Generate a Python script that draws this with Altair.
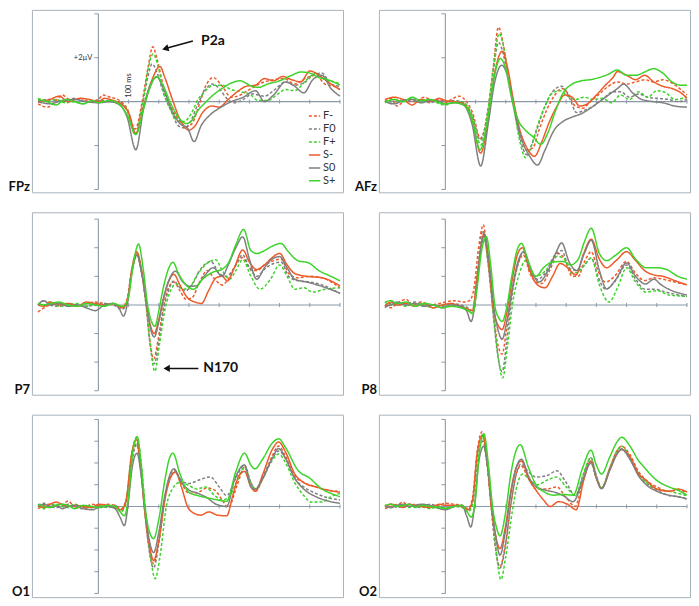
import altair as alt
import pandas as pd

CONDITIONS = ["F-", "F0", "F+", "S-", "S0", "S+"]
COLORS = ["#ee5a2a", "#7f7f7f", "#3dd42a", "#ee5a2a", "#7f7f7f", "#3dd42a"]
DASHES = [[3, 2], [3, 2], [3, 2], [1, 0], [1, 0], [1, 0]]

X_TICKS = [100, 200, 300, 400, 500, 600, 700, 800]

# ---------------- data (time in ms, amplitude in µV) ----------------
FPZ = {
    "F-": [[-200,-0.1],[-170,-0.25],[-140,0.05],[-120,0.3],[-90,0.05],[-60,0.15],[-30,0.0],[0,0.1],[15,0.3],[40,0.2],[70,0.05],[95,-0.3],[122,-1.25],[145,0.0],[165,1.6],[180,2.5],[195,1.9],[215,0.7],[240,-0.2],[265,-0.8],[290,-1.15],[310,-1.0],[335,-0.1],[355,0.7],[380,1.1],[410,0.7],[440,0.2],[470,0.3],[500,0.55],[540,0.85],[580,1.0],[615,1.05],[650,0.8],[690,1.1],[720,1.2],[750,0.8],[780,0.7],[800,0.55]],
    "F0": [[-200,0.05],[-160,0.1],[-120,0.0],[-80,0.15],[-40,0.0],[0,0.05],[40,0.0],[75,-0.1],[95,-0.4],[122,-1.5],[148,0.0],[165,1.2],[178,1.72],[195,1.3],[215,0.4],[240,-0.4],[265,-1.1],[285,-1.2],[305,-0.9],[330,-0.1],[355,0.55],[378,0.8],[400,0.6],[425,0.15],[450,-0.05],[480,0.1],[510,0.35],[550,0.25],[580,0.5],[620,0.9],[650,0.75],[680,0.85],[710,1.2],[740,1.3],[770,0.8],[800,0.7]],
    "F+": [[-200,0.15],[-170,0.05],[-140,0.1],[-110,-0.05],[-80,0.0],[-50,-0.1],[-20,0.05],[0,0.0],[40,0.05],[75,-0.1],[95,-0.35],[122,-1.45],[148,0.0],[165,1.5],[181,2.18],[198,1.6],[215,0.5],[240,-0.4],[265,-0.9],[285,-0.9],[305,-0.6],[330,0.1],[355,0.5],[380,0.75],[410,0.75],[440,0.55],[470,0.45],[500,0.35],[530,0.05],[560,0.05],[590,0.3],[620,0.55],[650,0.5],[690,1.0],[720,1.3],[750,1.0],[780,0.9],[800,0.8]],
    "S-": [[-200,0.0],[-160,0.1],[-130,0.25],[-100,0.0],[-60,0.15],[-30,0.1],[0,0.0],[20,0.15],[50,0.05],[80,-0.15],[100,-0.5],[124,-1.45],[150,-0.2],[175,0.9],[204,1.6],[220,1.1],[245,0.1],[270,-0.8],[300,-1.3],[320,-1.1],[345,-0.5],[375,-0.2],[400,-0.25],[430,0.1],[460,0.45],[490,0.7],[520,0.75],[550,1.05],[580,0.95],[610,1.15],[640,1.0],[670,0.9],[700,1.4],[730,1.2],[760,0.9],[800,0.55]],
    "S0": [[-200,0.0],[-160,-0.1],[-120,0.05],[-80,0.1],[-40,0.0],[0,-0.05],[40,0.0],[75,-0.2],[95,-0.7],[124,-2.19],[150,-0.3],[170,0.7],[195,1.12],[215,0.6],[240,-0.3],[270,-1.0],[295,-1.2],[317,-1.82],[340,-1.1],[370,-0.6],[400,-0.3],[440,0.0],[480,0.2],[520,0.5],[550,0.0],[580,0.3],[620,0.9],[650,0.7],[680,0.4],[710,1.0],[740,1.2],[770,0.6],[800,0.25]],
    "S+": [[-200,0.1],[-170,0.0],[-140,-0.15],[-110,0.1],[-80,0.0],[-50,-0.1],[-20,0.05],[0,-0.05],[40,0.05],[75,-0.2],[95,-0.6],[124,-1.5],[150,-0.3],[170,0.6],[192,1.14],[212,0.8],[240,-0.1],[270,-0.8],[290,-1.0],[310,-0.85],[330,-0.4],[350,-0.1],[380,0.3],[410,0.6],[440,0.85],[470,0.95],[500,0.75],[530,0.65],[560,0.8],[600,0.95],[640,1.2],[670,1.35],[700,1.3],[730,1.1],[760,1.0],[800,0.75]],
}

AFZ = {
    "F-": [[-200,0.0],[-180,0.15],[-160,-0.2],[-130,0.1],[-100,0.0],[-70,0.2],[-40,0.05],[-20,0.1],[0,-0.05],[20,0.1],[45,0.25],[70,0.0],[90,-0.5],[116,-1.67],[140,-0.5],[158,1.5],[176,3.39],[192,2.6],[210,1.0],[228,-0.3],[250,-1.6],[270,-2.2],[290,-2.1],[310,-1.3],[335,-0.4],[360,0.25],[385,0.6],[405,0.4],[430,-0.2],[455,-0.3],[480,0.0],[510,0.35],[540,0.7],[570,0.9],[600,0.8],[630,0.9],[660,1.0],[690,0.9],[720,1.0],[750,0.85],[780,0.55],[800,0.3]],
    "F0": [[-200,0.05],[-170,-0.1],[-140,0.1],[-110,0.0],[-80,0.1],[-50,-0.05],[-20,0.05],[0,0.0],[30,0.05],[60,-0.05],[88,-0.6],[116,-1.75],[140,-0.5],[158,1.3],[176,2.7],[193,2.1],[210,0.8],[228,-0.4],[250,-1.8],[268,-2.41],[285,-2.0],[305,-1.2],[330,-0.2],[355,0.45],[385,0.7],[410,0.2],[435,-0.5],[460,-0.4],[490,-0.2],[520,0.1],[555,0.45],[580,0.45],[610,0.2],[640,0.35],[670,0.2],[700,0.15],[740,0.1],[770,0.0],[800,0.1]],
    "F+": [[-200,0.0],[-170,0.1],[-140,0.0],[-110,0.15],[-80,-0.05],[-50,0.1],[-20,-0.1],[0,-0.15],[30,0.0],[60,-0.05],[88,-0.6],[117,-1.97],[140,-0.5],[158,1.4],[178,3.1],[194,2.4],[210,0.9],[228,-0.4],[248,-1.9],[266,-2.56],[285,-2.0],[305,-1.1],[330,-0.2],[355,0.4],[380,0.5],[405,0.25],[430,0.1],[460,0.2],[490,0.1],[520,0.15],[550,-0.05],[580,0.3],[610,0.1],[640,0.45],[670,0.2],[700,0.5],[730,0.4],[760,0.1],[800,0.2]],
    "S-": [[-200,0.1],[-170,0.2],[-140,0.1],[-110,-0.15],[-80,0.1],[-50,0.0],[-20,0.15],[0,0.05],[30,0.0],[60,-0.1],[88,-0.8],[117,-2.34],[142,-0.8],[162,1.2],[189,2.3],[205,1.6],[225,0.1],[245,-1.2],[270,-2.1],[295,-2.49],[320,-1.8],[345,-0.9],[370,-0.2],[395,0.3],[420,0.2],[445,-0.2],[470,-0.1],[500,0.3],[530,0.75],[555,1.1],[570,1.37],[600,1.2],[630,1.0],[660,1.2],[690,0.9],[720,0.7],[750,0.6],[780,0.4],[800,0.15]],
    "S0": [[-200,0.0],[-170,-0.1],[-140,0.05],[-110,0.1],[-80,-0.05],[-50,0.05],[-20,0.0],[0,-0.1],[30,-0.05],[60,-0.15],[88,-1.0],[117,-2.93],[142,-1.0],[162,0.8],[187,1.66],[205,1.2],[225,-0.1],[250,-1.6],[280,-2.5],[305,-2.89],[330,-2.2],[360,-1.3],[390,-0.9],[420,-0.7],[450,-0.55],[480,-0.3],[510,0.0],[540,0.3],[570,0.6],[590,0.8],[620,0.4],[650,0.1],[690,0.0],[720,-0.05],[760,-0.2],[800,-0.25]],
    "S+": [[-200,-0.05],[-170,0.1],[-140,0.0],[-110,0.2],[-80,0.05],[-50,0.1],[-20,-0.05],[0,-0.1],[30,-0.05],[60,-0.15],[88,-0.8],[115,-2.19],[140,-0.8],[160,1.0],[182,1.96],[200,1.5],[220,0.2],[240,-0.8],[265,-1.3],[290,-1.6],[316,-1.94],[340,-1.4],[365,-0.4],[390,0.4],[420,0.8],[450,0.95],[480,1.0],[510,1.1],[540,1.25],[569,1.44],[600,1.2],[630,1.2],[660,1.35],[688,1.5],[720,1.3],[750,0.9],[780,0.75],[800,0.75]],
}

P7 = {
    "F-": [[-200,-0.25],[-180,-0.1],[-160,0.0],[-130,0.05],[-100,0.0],[-70,-0.05],[-40,0.05],[-10,0.1],[20,0.05],[50,0.0],[80,-0.05],[95,0.2],[110,1.2],[126,1.86],[140,1.3],[158,0.0],[170,-1.2],[183,-1.89],[198,-1.2],[215,-0.1],[232,0.6],[250,0.8],[270,0.5],[290,0.2],[310,0.25],[335,0.8],[360,1.2],[385,0.9],[410,0.7],[430,0.9],[455,1.4],[478,1.66],[500,1.3],[525,1.2],[550,1.4],[580,1.55],[605,1.6],[630,1.1],[660,0.95],[700,1.0],[740,0.95],[800,0.6]],
    "F0": [[-200,0.0],[-180,0.15],[-160,0.0],[-130,-0.05],[-100,0.05],[-70,0.0],[-40,-0.05],[-10,0.0],[20,0.05],[50,0.0],[80,-0.15],[95,0.1],[110,1.2],[126,1.8],[140,1.3],[158,0.0],[170,-1.3],[185,-2.06],[200,-1.3],[215,-0.2],[232,0.5],[250,0.84],[270,0.6],[290,0.5],[310,0.7],[335,1.2],[373,1.52],[400,1.1],[425,1.0],[450,1.3],[478,1.75],[500,1.3],[525,1.0],[550,1.25],[580,1.45],[605,1.5],[630,1.0],[660,0.85],[700,0.8],[740,0.7],[800,0.4]],
    "F+": [[-200,0.05],[-180,0.0],[-160,0.1],[-130,-0.05],[-100,0.0],[-70,0.05],[-40,-0.05],[-10,0.05],[20,0.0],[50,0.05],[80,-0.1],[95,0.1],[112,1.2],[128,1.75],[142,1.2],[160,-0.1],[172,-1.4],[187,-2.32],[202,-1.4],[218,-0.3],[235,0.4],[258,0.73],[280,0.55],[300,0.6],[330,1.1],[360,1.45],[389,1.58],[410,1.2],[435,0.9],[455,1.2],[478,1.58],[505,1.0],[535,0.55],[570,0.9],[600,1.4],[625,1.0],[650,0.55],[680,0.6],[710,0.45],[750,0.55],[800,0.6]],
    "S-": [[-200,0.0],[-180,-0.05],[-160,0.1],[-130,0.0],[-100,0.05],[-70,-0.05],[-40,0.1],[-10,0.05],[20,0.0],[50,0.05],[80,-0.1],[95,0.1],[110,1.2],[128,1.84],[142,1.3],[160,0.0],[172,-0.7],[185,-1.0],[200,-0.5],[215,0.2],[232,0.8],[250,1.07],[270,0.7],[295,0.25],[320,0.1],[341,0.05],[365,0.5],[390,0.95],[410,1.0],[427,0.84],[450,1.3],[478,1.92],[500,1.5],[524,1.24],[550,1.4],[575,1.65],[600,1.8],[625,1.4],[650,1.1],[690,1.0],[740,0.95],[800,0.67]],
    "S0": [[-200,0.0],[-180,0.15],[-160,0.0],[-130,0.05],[-100,-0.05],[-70,0.0],[-40,-0.1],[-10,-0.2],[20,0.0],[50,0.05],[70,-0.15],[83,-0.39],[97,0.1],[112,1.2],[128,1.75],[142,1.2],[160,0.0],[172,-0.8],[185,-1.12],[200,-0.6],[215,0.2],[235,0.9],[255,1.18],[280,0.8],[305,0.65],[325,0.67],[350,1.0],[380,1.3],[410,1.0],[430,1.4],[455,2.0],[478,2.38],[500,1.6],[524,0.9],[550,1.3],[575,1.6],[600,1.69],[625,1.3],[650,0.9],[690,0.8],[740,0.65],[800,0.41]],
    "S+": [[-200,0.05],[-180,0.0],[-160,0.05],[-130,0.1],[-100,0.0],[-70,-0.05],[-40,0.05],[-10,0.0],[20,-0.05],[50,0.05],[80,-0.05],[98,0.2],[115,1.4],[133,2.13],[148,1.3],[163,0.0],[175,-0.55],[187,-0.75],[200,-0.2],[215,0.6],[230,1.2],[247,1.49],[265,1.1],[290,0.7],[315,0.55],[345,0.9],[380,1.15],[410,1.25],[432,1.5],[455,2.1],[481,2.64],[505,1.9],[525,1.8],[550,1.9],[575,2.05],[604,2.15],[630,1.85],[660,1.55],[696,1.47],[730,1.2],[770,1.0],[800,0.84]],
}

P8 = {
    "F-": [[-200,0.0],[-180,-0.1],[-160,0.05],[-130,0.2],[-110,0.0],[-80,0.1],[-50,0.0],[-20,0.05],[0,0.1],[30,0.15],[60,0.1],[80,0.15],[95,0.6],[110,2.0],[126,2.8],[140,1.6],[160,-0.3],[172,-1.3],[188,-1.72],[202,-0.9],[220,0.4],[240,1.4],[258,1.75],[280,1.1],[300,0.8],[320,0.75],[345,1.2],[375,1.8],[395,1.6],[420,1.0],[440,1.0],[460,1.5],[483,1.86],[505,1.2],[530,0.8],[560,1.0],[600,1.52],[630,1.1],[660,0.85],[690,0.95],[720,0.9],[760,0.8],[800,0.7]],
    "F0": [[-200,-0.1],[-180,0.05],[-160,0.0],[-130,0.05],[-100,0.1],[-70,-0.05],[-40,0.0],[-10,-0.05],[20,0.05],[50,0.0],[75,-0.1],[90,-0.2],[105,1.0],[124,2.6],[140,1.6],[160,-0.5],[174,-1.8],[188,-2.34],[203,-1.3],[220,0.3],[240,1.4],[258,1.85],[280,1.2],[305,0.9],[330,1.1],[360,1.7],[385,1.9],[410,1.3],[435,1.2],[460,1.4],[483,1.64],[505,1.0],[530,0.55],[560,0.8],[600,1.4],[630,0.9],[660,0.55],[690,0.55],[730,0.45],[770,0.35],[800,0.3]],
    "F+": [[-200,0.1],[-180,0.0],[-160,0.05],[-130,-0.05],[-100,0.05],[-70,0.0],[-40,-0.1],[-10,0.0],[20,0.0],[50,-0.05],[75,-0.15],[90,-0.3],[105,0.8],[126,2.32],[142,1.5],[162,-0.6],[176,-1.9],[190,-2.55],[205,-1.5],[222,0.0],[245,1.1],[266,1.55],[290,1.0],[315,1.05],[340,1.3],[370,1.7],[395,1.6],[420,1.1],[445,1.2],[465,1.45],[483,1.64],[510,0.7],[542,0.1],[570,0.6],[600,1.3],[630,0.8],[665,0.45],[700,0.5],[740,0.35],[800,0.3]],
    "S-": [[-200,-0.05],[-180,0.1],[-160,0.0],[-130,0.05],[-100,-0.05],[-70,0.05],[-40,-0.1],[-10,0.0],[20,0.05],[50,-0.05],[75,-0.15],[90,-0.2],[105,1.0],[128,2.49],[142,1.6],[160,-0.2],[174,-0.7],[188,-0.86],[203,-0.3],[220,0.8],[240,1.8],[255,2.0],[280,1.2],[305,0.7],[330,0.6],[355,1.0],[380,1.45],[405,1.3],[432,1.05],[458,1.8],[483,2.3],[510,1.6],[534,1.3],[565,1.55],[600,1.86],[630,1.55],[660,1.2],[690,1.05],[720,1.0],[760,0.85],[800,0.7]],
    "S0": [[-200,-0.05],[-180,0.0],[-160,0.1],[-130,0.0],[-100,0.05],[-70,-0.05],[-40,0.0],[-10,-0.1],[20,0.0],[50,-0.05],[70,-0.2],[85,-0.58],[100,0.2],[115,1.8],[130,2.45],[145,1.5],[162,-0.2],[175,-0.9],[188,-1.2],[203,-0.6],[222,0.6],[240,1.5],[260,1.86],[285,1.2],[310,0.8],[340,1.2],[365,1.8],[385,2.17],[410,1.5],[435,1.2],[460,1.8],[483,2.26],[510,1.2],[534,0.56],[565,0.9],[600,1.47],[630,1.0],[663,0.73],[690,0.9],[715,0.7],[750,0.5],[800,0.35]],
    "S+": [[-200,0.1],[-180,0.15],[-160,0.05],[-130,0.1],[-100,-0.05],[-70,0.05],[-40,0.0],[-10,-0.1],[20,-0.05],[50,-0.1],[75,-0.2],[90,-0.3],[105,0.6],[120,1.9],[136,2.38],[150,1.4],[165,-0.1],[177,-0.45],[188,-0.58],[203,-0.1],[220,1.0],[237,1.9],[252,2.15],[275,1.5],[300,1.0],[325,1.3],[355,1.5],[390,1.52],[415,1.4],[440,1.6],[460,2.2],[483,2.68],[510,1.8],[534,1.55],[565,1.75],[600,2.0],[630,1.6],[665,1.3],[700,1.3],[730,1.25],[770,1.0],[800,0.9]],
}

O1 = {
    "F-": [[-200,-0.1],[-180,0.05],[-160,0.1],[-140,0.0],[-120,0.05],[-100,0.25],[-80,0.0],[-50,-0.05],[-20,0.1],[0,0.05],[30,0.1],[55,0.05],[75,-0.1],[92,0.3],[110,2.2],[127,2.93],[140,1.8],[152,0.0],[165,-1.6],[183,-2.63],[200,-1.6],[218,0.2],[235,1.2],[255,1.58],[275,1.1],[300,0.6],[330,0.65],[360,0.85],[385,0.75],[410,0.3],[430,-0.05],[460,1.0],[484,1.8],[505,1.0],[520,0.7],[545,1.3],[575,2.3],[597,2.78],[620,2.3],[650,1.4],[680,1.1],[720,0.9],[760,0.75],[800,0.7]],
    "F0": [[-200,0.05],[-180,0.15],[-160,0.0],[-140,-0.05],[-120,0.0],[-100,0.1],[-80,-0.05],[-50,-0.1],[-20,0.0],[0,-0.05],[30,0.0],[55,0.05],[75,-0.2],[92,0.2],[110,2.0],[127,2.85],[140,1.7],[152,0.0],[165,-1.7],[183,-2.83],[200,-1.7],[218,0.2],[235,1.3],[250,1.65],[275,1.2],[300,1.05],[330,1.2],[371,1.36],[400,0.9],[425,0.5],[455,1.3],[484,1.9],[505,1.1],[520,0.8],[545,1.4],[575,2.2],[597,2.55],[620,2.2],[650,1.3],[680,0.9],[720,0.6],[760,0.4],[800,0.3]],
    "F+": [[-200,0.0],[-180,-0.1],[-160,0.05],[-140,0.1],[-120,0.0],[-100,-0.05],[-80,0.1],[-50,0.0],[-20,-0.05],[0,0.05],[30,-0.05],[55,0.0],[75,-0.25],[92,0.3],[110,2.4],[128,3.2],[142,2.0],[155,0.0],[170,-2.0],[188,-3.32],[205,-2.2],[225,0.0],[245,0.8],[269,1.1],[295,1.0],[325,0.8],[355,0.9],[385,0.5],[410,0.3],[430,0.4],[460,1.2],[484,1.8],[505,1.1],[520,0.8],[545,1.3],[575,2.1],[597,2.41],[620,2.0],[650,1.1],[680,0.5],[704,0.2],[740,0.2],[770,0.45],[800,0.6]],
    "S-": [[-200,0.05],[-180,-0.05],[-160,0.1],[-140,0.2],[-120,0.1],[-100,0.0],[-80,0.05],[-50,0.0],[-20,-0.05],[0,0.1],[30,0.05],[55,-0.05],[75,-0.15],[92,0.3],[110,2.4],[127,3.08],[140,1.9],[152,0.0],[166,-1.5],[183,-2.48],[200,-1.6],[220,0.3],[238,1.3],[255,1.58],[275,0.9],[295,0.0],[315,-0.3],[340,-0.4],[365,-0.25],[395,-0.4],[425,-0.43],[445,0.5],[465,1.4],[484,1.61],[505,0.9],[520,0.7],[545,1.5],[575,2.6],[597,2.96],[620,2.5],[650,1.5],[680,1.1],[720,0.9],[760,0.75],[800,0.65]],
    "S0": [[-200,0.0],[-180,0.1],[-160,0.0],[-140,0.05],[-120,-0.1],[-100,0.0],[-80,0.05],[-50,-0.1],[-20,-0.15],[0,-0.05],[30,0.0],[55,-0.1],[72,-0.5],[86,-0.88],[100,0.3],[112,1.8],[128,2.45],[142,1.4],[155,-0.2],[168,-1.5],[183,-2.12],[200,-1.2],[220,0.5],[238,1.5],[250,1.73],[275,1.1],[300,0.76],[330,0.6],[360,0.4],[390,0.1],[425,0.0],[450,1.2],[484,1.91],[505,0.9],[520,0.8],[545,1.3],[575,2.2],[597,2.66],[620,2.2],[650,1.3],[680,0.8],[720,0.45],[760,0.25],[800,0.15]],
    "S+": [[-200,0.1],[-180,0.0],[-160,-0.05],[-140,0.05],[-120,0.1],[-100,0.05],[-80,-0.1],[-50,0.05],[-20,0.0],[0,-0.05],[30,0.05],[55,0.0],[72,-0.25],[86,-0.43],[100,0.5],[113,2.4],[129,3.2],[142,1.9],[155,-0.1],[168,-1.1],[183,-1.48],[200,-0.6],[220,1.2],[235,2.2],[247,2.45],[270,1.5],[300,0.65],[330,0.5],[360,0.4],[395,0.3],[425,0.24],[455,1.6],[484,2.45],[505,1.9],[518,1.73],[545,2.2],[575,2.9],[597,3.11],[620,2.7],[661,1.66],[700,1.3],[740,0.8],[770,0.6],[800,0.45]],
}

O2 = {
    "F-": [[-200,-0.1],[-180,0.0],[-160,0.05],[-140,0.2],[-120,0.0],[-100,0.1],[-80,0.05],[-50,0.0],[-20,0.05],[0,0.15],[30,0.1],[55,0.05],[75,-0.1],[90,0.4],[106,2.6],[122,3.44],[136,2.2],[152,0.0],[165,-1.8],[181,-2.77],[198,-1.8],[218,0.2],[235,1.5],[250,1.87],[275,1.3],[300,0.8],[335,0.8],[369,0.9],[400,0.4],[430,0.0],[455,1.2],[482,2.0],[500,1.3],[517,0.85],[545,1.8],[570,2.6],[584,2.77],[610,2.4],[640,1.6],[665,1.2],[700,0.9],[740,0.7],[770,0.75],[800,0.65]],
    "F0": [[-200,0.0],[-180,0.1],[-160,-0.05],[-140,0.0],[-120,0.1],[-100,0.0],[-80,-0.05],[-50,0.1],[-20,0.0],[0,-0.05],[30,0.0],[55,0.05],[75,-0.2],[90,0.2],[106,2.2],[124,3.0],[138,2.0],[152,0.0],[165,-1.8],[181,-2.84],[198,-1.9],[218,0.2],[235,1.5],[250,1.95],[275,1.6],[300,1.35],[337,1.42],[369,1.64],[400,1.1],[430,0.5],[455,1.4],[482,2.24],[500,1.4],[517,0.85],[545,1.7],[570,2.5],[584,2.65],[610,2.2],[640,1.5],[665,1.1],[700,0.75],[740,0.5],[770,0.45],[800,0.35]],
    "F+": [[-200,0.05],[-180,-0.05],[-160,0.1],[-140,0.0],[-120,-0.05],[-100,0.05],[-80,0.0],[-50,-0.1],[-20,0.0],[0,-0.1],[30,0.0],[55,-0.05],[75,-0.25],[90,0.1],[108,2.3],[126,3.14],[140,2.0],[155,-0.1],[168,-2.0],[184,-3.36],[200,-2.3],[222,-0.2],[238,1.0],[256,1.49],[280,1.2],[305,1.0],[335,1.2],[369,1.35],[400,0.9],[432,0.5],[458,1.5],[482,2.24],[500,1.4],[517,0.85],[545,1.8],[570,2.6],[584,2.77],[610,2.3],[640,1.5],[665,1.1],[700,0.8],[740,0.7],[770,0.6],[800,0.5]],
    "S-": [[-200,0.0],[-180,0.1],[-160,0.05],[-140,-0.05],[-120,0.1],[-100,0.05],[-80,0.0],[-50,-0.05],[-20,0.1],[0,0.05],[30,0.05],[55,0.0],[75,-0.15],[90,0.3],[106,2.5],[124,3.29],[138,2.1],[152,0.0],[166,-1.3],[181,-1.94],[198,-1.0],[218,0.8],[235,1.8],[252,2.09],[275,1.3],[300,0.75],[325,0.3],[347,0.0],[375,0.22],[405,0.1],[433,-0.15],[458,1.2],[482,2.09],[500,1.3],[517,0.82],[545,1.7],[570,2.45],[584,2.62],[610,2.3],[640,1.5],[665,1.2],[700,0.8],[740,0.7],[770,0.8],[800,0.67]],
    "S0": [[-200,0.0],[-180,-0.05],[-160,0.05],[-140,0.1],[-120,0.0],[-100,0.05],[-80,0.1],[-50,0.05],[-20,-0.1],[0,-0.15],[30,0.0],[55,0.05],[72,-0.5],[84,-0.94],[98,0.2],[110,2.0],[127,2.77],[140,1.8],[155,-0.1],[168,-1.5],[181,-2.24],[198,-1.2],[218,0.7],[235,1.8],[252,2.17],[275,1.4],[300,0.9],[330,0.75],[358,0.67],[390,0.5],[423,0.22],[455,1.2],[482,2.02],[500,1.3],[517,0.82],[545,1.7],[570,2.45],[584,2.62],[610,2.2],[640,1.4],[665,1.0],[700,0.7],[740,0.52],[770,0.45],[800,0.34]],
    "S+": [[-200,0.05],[-180,0.1],[-160,0.0],[-140,0.05],[-120,0.1],[-100,-0.05],[-80,0.05],[-50,0.0],[-20,-0.05],[0,-0.1],[30,0.0],[55,0.05],[72,-0.25],[86,-0.49],[100,0.4],[112,2.4],[128,3.33],[142,2.0],[157,-0.1],[168,-0.9],[181,-1.35],[198,-0.4],[218,1.6],[235,2.6],[248,2.84],[275,1.8],[300,1.0],[330,0.65],[358,0.52],[390,0.55],[423,0.52],[455,1.8],[482,2.59],[500,1.9],[517,1.49],[545,2.3],[570,3.0],[584,3.18],[610,2.8],[640,2.1],[659,1.79],[700,1.2],[740,0.9],[770,0.75],[800,0.52]],
}

PANELS = [("FPz", FPZ), ("AFz", AFZ), ("P7", P7), ("P8", P8), ("O1", O1), ("O2", O2)]

# per-row vertical scale: (view domain, axis extent, tick values)
ROWS = {
    "top": ([-4.13, 4.18], 4, [-4, -2, 2, 4]),
    "mid": ([-3.14, 3.24], 3, [-3, -2, -1, 1, 2, 3]),
    "bot": ([-4.17, 4.22], 4, [-4, -3, -2, -1, 1, 2, 3, 4]),
}
PANEL_ROW = {"FPz": "top", "AFz": "top", "P7": "mid", "P8": "mid", "O1": "bot", "O2": "bot"}

rows = []
for pname, series in PANELS:
    for cond in CONDITIONS:
        for t, v in series[cond]:
            rows.append({"panel": pname, "cond": cond, "t": t, "v": v})
df = pd.DataFrame(rows)

W, H = 312, 183
AXIS_COLOR = "#8a9aa8"
FONT = "Lato"


def panel(name):
    ydom, yext, yticks = ROWS[PANEL_ROW[name]]
    xs = alt.Scale(domain=[-220, 810], nice=False, zero=False)
    ys = alt.Scale(domain=ydom, nice=False, zero=False)

    def X(f):
        return alt.X(f, scale=xs, axis=None)

    def Y(f):
        return alt.Y(f, scale=ys, axis=None)

    lines = alt.Chart(df[df.panel == name]).mark_line(
        interpolate="monotone", strokeWidth=1.5, clip=True
    ).encode(
        x=X("t:Q"),
        y=Y("v:Q"),
        color=alt.Color("cond:N", scale=alt.Scale(domain=CONDITIONS, range=COLORS),
                        legend=alt.Legend(title=None)),
        strokeDash=alt.StrokeDash("cond:N", scale=alt.Scale(domain=CONDITIONS, range=DASHES),
                                  legend=alt.Legend(title=None)),
    )

    vaxis = alt.Chart(pd.DataFrame({"z": [0], "lo": [-yext], "hi": [yext]})).mark_rule(
        color=AXIS_COLOR, strokeWidth=1.1
    ).encode(x=X("z:Q"), y=Y("lo:Q"), y2="hi:Q")

    haxis = alt.Chart(pd.DataFrame({"z": [0], "a": [-200], "b": [800]})).mark_rule(
        color=AXIS_COLOR, strokeWidth=1.1
    ).encode(x=X("a:Q"), x2="b:Q", y=Y("z:Q"))

    yt = alt.Chart(pd.DataFrame({"z": [0] * len(yticks), "v": yticks})).mark_rule(
        color=AXIS_COLOR, strokeWidth=1, xOffset=-4, x2Offset=0
    ).encode(x=X("z:Q"), x2="z:Q", y=Y("v:Q"))

    xt = alt.Chart(pd.DataFrame({"t": X_TICKS, "z": [0] * len(X_TICKS)})).mark_rule(
        color=AXIS_COLOR, strokeWidth=1, yOffset=-2, y2Offset=2
    ).encode(x=X("t:Q"), y=Y("z:Q"), y2="z:Q")

    label = alt.Chart(pd.DataFrame({"n": [name]})).mark_text(
        align="right", baseline="bottom", font=FONT, fontWeight="bold", fontSize=13,
        color="#111111", dx=-2
    ).encode(text="n:N", x=alt.value(0), y=alt.value(H + 2))

    layers = [vaxis, haxis, yt, xt, lines, label]

    if name == "FPz":
        small = pd.DataFrame({"t": [0], "v": [2], "s": ["+2µV"]})
        layers.append(alt.Chart(small).mark_text(
            align="right", baseline="middle", fontSize=7.5, font=FONT, color="#333333", dx=-6
        ).encode(x=X("t:Q"), y=Y("v:Q"), text="s:N"))
        ms = pd.DataFrame({"t": [100], "v": [0], "s": ["100 ms"]})
        layers.append(alt.Chart(ms).mark_text(
            align="left", baseline="middle", fontSize=7.5, font=FONT, color="#333333",
            angle=270, dx=4
        ).encode(x=X("t:Q"), y=Y("v:Q"), text="s:N"))
        arrow = pd.DataFrame({"t": [313], "v": [2.76], "t2": [222], "v2": [2.42]})
        layers.append(alt.Chart(arrow).mark_rule(color="#111111", strokeWidth=1.6).encode(
            x=X("t:Q"), y=Y("v:Q"), x2="t2:Q", y2="v2:Q"))
        head = pd.DataFrame({"t": [225], "v": [2.43]})
        layers.append(alt.Chart(head).mark_point(
            shape="triangle", angle=255, filled=True, size=55, color="#111111", opacity=1
        ).encode(x=X("t:Q"), y=Y("v:Q")))
        txt = pd.DataFrame({"t": [340], "v": [2.78], "s": ["P2a"]})
        layers.append(alt.Chart(txt).mark_text(
            align="left", baseline="middle", font=FONT, fontWeight="bold", fontSize=14, color="#111111"
        ).encode(x=X("t:Q"), y=Y("v:Q"), text="s:N"))

    if name == "P7":
        arrow = pd.DataFrame({"t": [331], "v": [-2.22], "t2": [224]})
        layers.append(alt.Chart(arrow).mark_rule(color="#111111", strokeWidth=1.6).encode(
            x=X("t:Q"), y=Y("v:Q"), x2="t2:Q"))
        head = pd.DataFrame({"t": [226], "v": [-2.22]})
        layers.append(alt.Chart(head).mark_point(
            shape="triangle-left", filled=True, size=55, color="#111111", opacity=1
        ).encode(x=X("t:Q"), y=Y("v:Q")))
        txt = pd.DataFrame({"t": [347], "v": [-2.22], "s": ["N170"]})
        layers.append(alt.Chart(txt).mark_text(
            align="left", baseline="middle", font=FONT, fontWeight="bold", fontSize=14, color="#111111"
        ).encode(x=X("t:Q"), y=Y("v:Q"), text="s:N"))

    return alt.layer(*layers).properties(width=W, height=H)


chart = alt.ConcatChart(
    concat=[panel(p[0]) for p in PANELS],
    columns=2,
    spacing={"row": 20, "column": 36},
    bounds="flush",
).properties(
    padding=0
).configure_view(
    stroke="#a9b3bb", strokeWidth=1
).configure_legend(
    orient="none", legendX=277, legendY=100, symbolType="stroke", symbolSize=130,
    symbolStrokeWidth=1.5, labelFont=FONT, labelFontSize=11, labelColor="#333333",
    rowPadding=1, padding=0, labelOffset=2
)

chart.save("out.html", embed_options={"renderer": "svg", "actions": False})
